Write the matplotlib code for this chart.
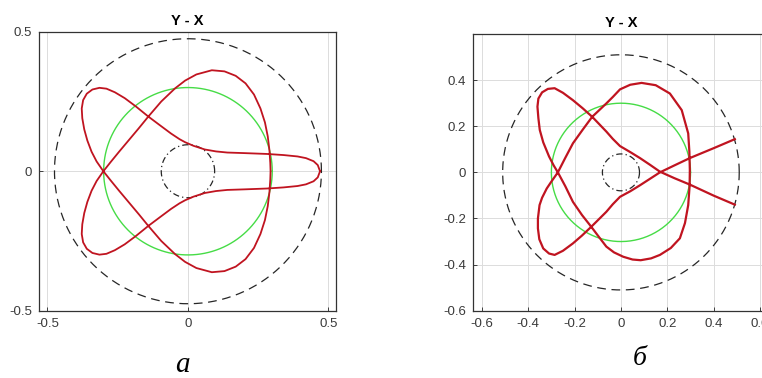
import numpy as np
import matplotlib
matplotlib.use("Agg")
import matplotlib.pyplot as plt

# ---- trajectory (a): closed loop, X and Y coordinates ----
a_x = [0.470, 0.462, 0.447, 0.420, 0.390, 0.340, 0.280, 0.200, 0.140, 0.100,
       0.060, 0.020, -0.010, -0.030, -0.060, -0.100, -0.141, -0.185, -0.225, -0.260,
       -0.290, -0.315, -0.340, -0.360, -0.373, -0.378, -0.376, -0.369, -0.358, -0.343,
       -0.325, -0.301, -0.275, -0.245, -0.210, -0.175, -0.141, -0.095, -0.046, -0.010,
       0.030, 0.085, 0.130, 0.170, 0.205, 0.235, 0.258, 0.274, 0.284, 0.290,
       0.293, 0.294, 0.293, 0.290, 0.284, 0.274, 0.258, 0.235, 0.205, 0.170,
       0.130, 0.085, 0.030, -0.010, -0.046, -0.095, -0.141, -0.175, -0.210, -0.245,
       -0.275, -0.301, -0.325, -0.343, -0.358, -0.369, -0.376, -0.378, -0.373, -0.360,
       -0.340, -0.315, -0.290, -0.260, -0.225, -0.185, -0.141, -0.100, -0.060, -0.030,
       -0.010, 0.020, 0.060, 0.100, 0.140, 0.200, 0.280, 0.340, 0.390, 0.420,
       0.447, 0.462, 0.470]
a_y = [0.000, 0.022, 0.036, 0.047, 0.053, 0.058, 0.062, 0.065, 0.067, 0.071,
       0.078, 0.091, 0.104, 0.115, 0.135, 0.165, 0.196, 0.232, 0.262, 0.283,
       0.296, 0.299, 0.293, 0.278, 0.255, 0.225, 0.190, 0.150, 0.110, 0.070,
       0.035, 0.000, -0.033, -0.070, -0.112, -0.154, -0.196, -0.250, -0.297, -0.325,
       -0.347, -0.362, -0.358, -0.342, -0.315, -0.275, -0.225, -0.175, -0.125, -0.075,
       -0.030, 0.000, 0.030, 0.075, 0.125, 0.175, 0.225, 0.275, 0.315, 0.342,
       0.358, 0.362, 0.347, 0.325, 0.297, 0.250, 0.196, 0.154, 0.112, 0.070,
       0.033, 0.000, -0.035, -0.070, -0.110, -0.150, -0.190, -0.225, -0.255, -0.278,
       -0.293, -0.299, -0.296, -0.283, -0.262, -0.232, -0.196, -0.165, -0.135, -0.115,
       -0.104, -0.091, -0.078, -0.071, -0.067, -0.065, -0.062, -0.058, -0.053, -0.047,
       -0.036, -0.022, 0.000]

# ---- trajectory (b): open path, X and Y coordinates ----
b_x = [0.491, 0.400, 0.297, 0.230, 0.168, 0.125, 0.082, 0.040, -0.004, -0.035,
       -0.063, -0.124, -0.165, -0.207, -0.250, -0.286, -0.315, -0.340, -0.356, -0.360,
       -0.356, -0.350, -0.335, -0.310, -0.290, -0.272, -0.240, -0.207, -0.168, -0.128,
       -0.095, -0.063, -0.030, 0.010, 0.050, 0.085, 0.130, 0.168, 0.215, 0.254,
       0.276, 0.290, 0.296, 0.297, 0.295, 0.290, 0.262, 0.211, 0.150, 0.089,
       0.040, -0.004, -0.035, -0.063, -0.124, -0.165, -0.207, -0.240, -0.272, -0.300,
       -0.320, -0.340, -0.351, -0.358, -0.358, -0.352, -0.335, -0.310, -0.286, -0.250,
       -0.207, -0.168, -0.128, -0.095, -0.063, -0.035, -0.004, 0.040, 0.082, 0.125,
       0.168, 0.230, 0.297, 0.400, 0.491]
b_y = [-0.140, -0.101, -0.053, -0.025, 0.003, 0.033, 0.062, 0.088, 0.114, 0.145,
       0.177, 0.241, 0.278, 0.313, 0.345, 0.365, 0.362, 0.347, 0.320, 0.285,
       0.235, 0.184, 0.130, 0.069, 0.030, 0.000, -0.060, -0.128, -0.185, -0.236,
       -0.280, -0.322, -0.347, -0.366, -0.378, -0.381, -0.373, -0.358, -0.328, -0.286,
       -0.220, -0.142, -0.060, 0.010, 0.090, 0.169, 0.270, 0.342, 0.378, 0.388,
       0.380, 0.360, 0.327, 0.299, 0.241, 0.185, 0.126, 0.063, 0.000, -0.040,
       -0.070, -0.110, -0.142, -0.200, -0.243, -0.290, -0.330, -0.352, -0.358, -0.340,
       -0.308, -0.274, -0.236, -0.203, -0.171, -0.138, -0.106, -0.082, -0.056, -0.028,
       0.000, 0.030, 0.062, 0.105, 0.144]

# ---- reference circles (radii) ----
a_r_outer, a_r_mid, a_r_inner = 0.475, 0.30, 0.095
b_r_outer, b_r_mid, b_r_inner = 0.51, 0.30, 0.08

# ---- axes ticks ----
a_ticks = [-0.5, 0, 0.5]
b_xticks = [-0.6, -0.4, -0.2, 0, 0.2, 0.4, 0.6]
b_yticks = [-0.6, -0.4, -0.2, 0, 0.2, 0.4]

plt.rcParams['font.family'] = ['Liberation Sans', 'DejaVu Sans']

RED = '#c01420'
GREEN = '#46dc46'
DARK = '#262626'
GRID = '#dcdcdc'
TICKC = '#3a3a3a'


def circle(ax, r, **kw):
    t = np.linspace(0, 2 * np.pi, 400)
    ax.plot(r * np.cos(t), r * np.sin(t), **kw)


def style(ax, xticks, yticks, xlim, ylim):
    ax.set_xlim(*xlim)
    ax.set_ylim(*ylim)
    ax.set_xticks(xticks)
    ax.set_yticks(yticks)
    ax.set_xticklabels(['0' if v == 0 else f'{v:g}' for v in xticks])
    ax.set_yticklabels(['0' if v == 0 else f'{v:g}' for v in yticks])
    ax.grid(True, color=GRID, linewidth=0.7)
    ax.set_axisbelow(True)
    ax.tick_params(direction='in', length=3, width=0.6, colors=DARK,
                   labelcolor=TICKC, labelsize=9.5, pad=5,
                   top=False, right=False)
    for s in ax.spines.values():
        s.set_color('#333333')
        s.set_linewidth(0.9)
    ax.set_title('Y - X', fontsize=10.5, fontweight='bold', pad=5)


fig = plt.figure(figsize=(7.62, 3.78), dpi=100)

# panel (a)
ax1 = fig.add_axes([0.0512, 0.178, 0.3898, 0.738])
circle(ax1, a_r_outer, color=DARK, lw=0.9, ls=(0, (7, 4.5)))
circle(ax1, a_r_mid, color=GREEN, lw=1.0)
circle(ax1, a_r_inner, color=DARK, lw=0.9, ls=(0, (5, 2.5, 1, 2.5)))
ax1.plot(a_x, a_y, color=RED, lw=1.3, solid_joinstyle='round')
style(ax1, a_ticks, a_ticks, (-0.53, 0.527), (-0.5, 0.5))

# panel (b)
ax2 = fig.add_axes([0.6207, 0.178, 0.389, 0.732])
circle(ax2, b_r_outer, color=DARK, lw=0.9, ls=(0, (7, 4.5)))
circle(ax2, b_r_mid, color=GREEN, lw=1.0)
circle(ax2, b_r_inner, color=DARK, lw=0.9, ls=(0, (5, 2.5, 1, 2.5)))
ax2.plot(b_x, b_y, color=RED, lw=1.6, solid_joinstyle='round')
style(ax2, b_xticks, b_yticks, (-0.638, 0.64), (-0.6, 0.6))

# panel captions
fig.text(182 / 762, 1 - 372 / 378, 'а', ha='center', va='baseline',
         fontsize=21, style='italic', family=['Liberation Serif', 'DejaVu Serif'])
fig.text(640 / 762, 1 - 365 / 378, 'б', ha='center', va='baseline',
         fontsize=20, style='italic', family=['Liberation Serif', 'DejaVu Serif'])

fig.savefig('out.png', dpi=100)
